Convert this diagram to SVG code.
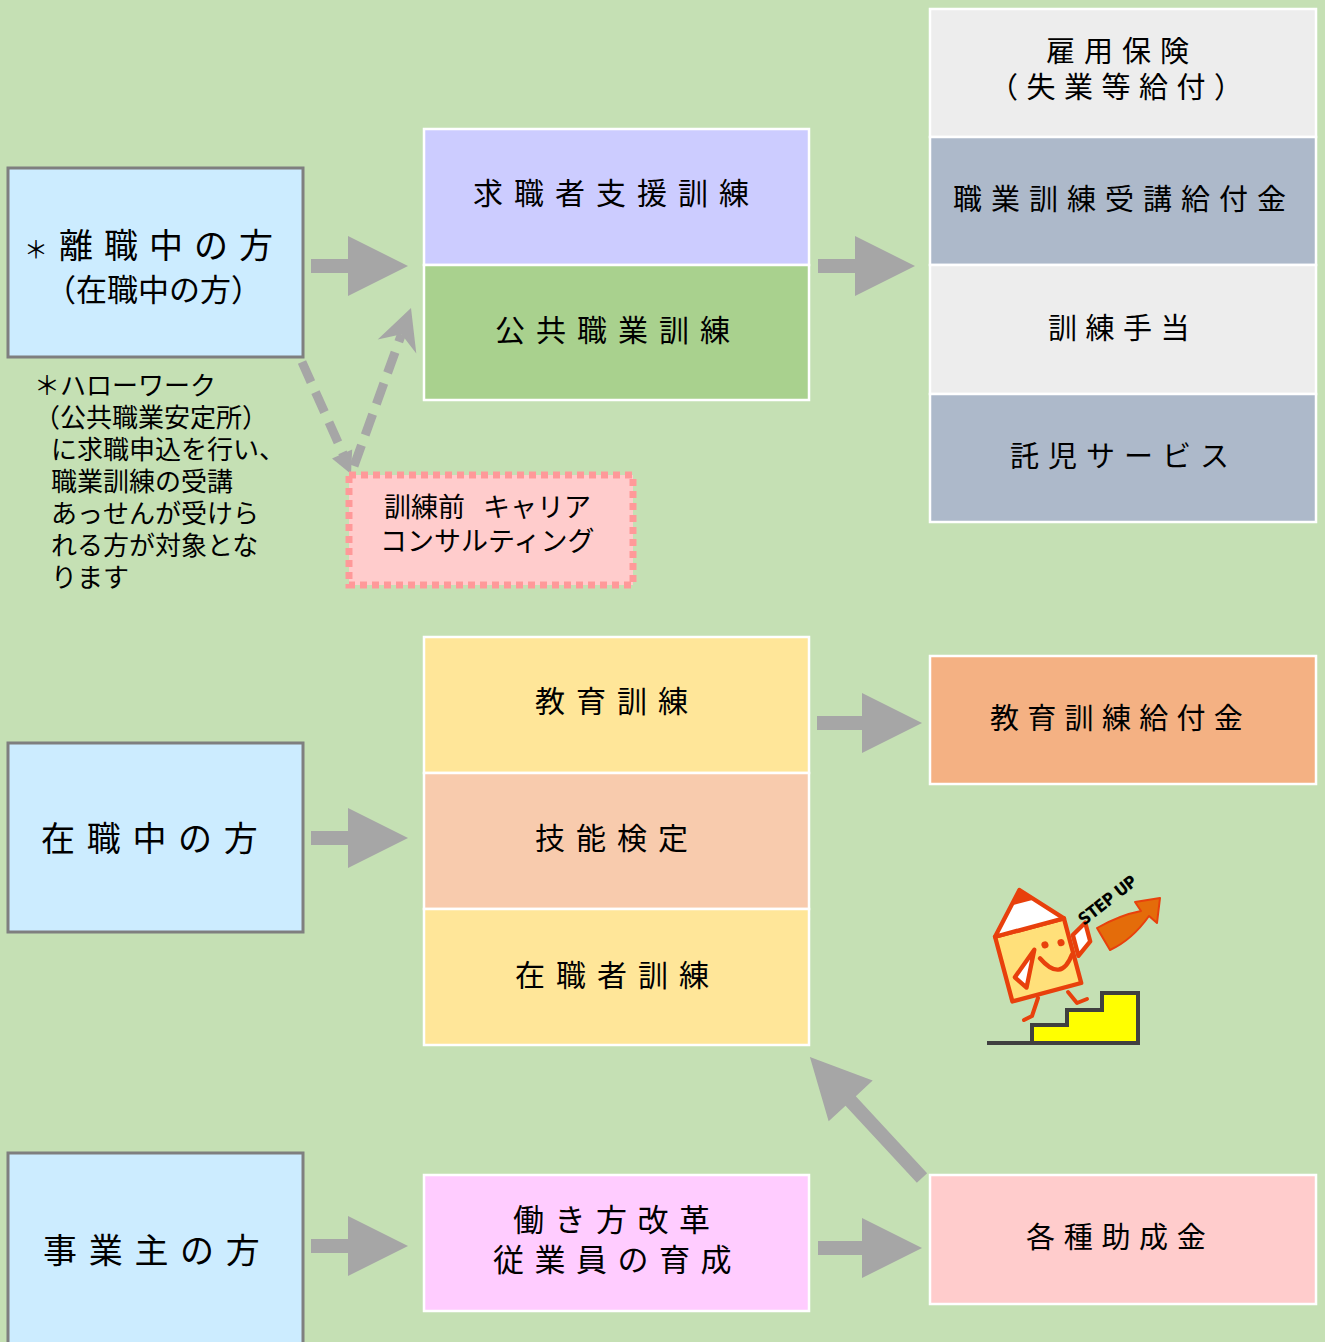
<svg xmlns="http://www.w3.org/2000/svg" width="1325" height="1342" viewBox="0 0 1325 1342">
  <style>
    .jp { font-family: "Noto Sans CJK JP", "Noto Sans", sans-serif; fill: #000; }
    .lbox { fill: #CCECFF; stroke: #7F7F7F; stroke-width: 3; }
    .cell { stroke: #FFFFFF; stroke-width: 2.5; }
    .blk { fill: #A6A6A6; }
    .dash { fill: none; stroke: #A6A6A6; stroke-width: 9; stroke-dasharray: 22 11; }
    .ink { stroke: #E8400C; stroke-width: 4; stroke-linejoin: round; stroke-linecap: round; }
  </style>

  <!-- background -->
  <rect x="0" y="0" width="1325" height="1342" fill="#C5E0B4"/>

  <!-- connectors -->
  <g id="connectors">
    <path class="blk" d="M311,259 H348 V236 L408,266 L348,296 V273 H311 Z"/>
    <path class="blk" d="M818,259 H855 V236 L915,266 L855,296 V273 H818 Z"/>
    <path class="blk" d="M817,716 H862 V693 L922,723 L862,753 V730 H817 Z"/>
    <path class="blk" d="M311,831 H348 V808 L408,838 L348,868 V845 H311 Z"/>
    <path class="blk" d="M311,1239 H348 V1216 L408,1246 L348,1276 V1253 H311 Z"/>
    <path class="blk" d="M818,1241 H862 V1218 L922,1248 L862,1278 V1255 H818 Z"/>
    <path class="blk" transform="translate(922,1178) rotate(-132.8)" d="M0,-7 H105 V-30 L165,0 L105,30 V7 H0 Z"/>
    <!-- consulting loop: down to the box and back up to training -->
    <line class="dash" x1="302" y1="362" x2="345" y2="458"/>
    <polygon class="blk" points="351,474 352.2,449.4 332,458.4"/>
    <line class="dash" x1="354" y1="466" x2="401.5" y2="334.3"/>
    <polygon class="blk" points="411,308 416.3,353.5 401.5,334.3 377.7,339.5"/>
  </g>

  <!-- left column -->
  <g id="node-rishoku">
    <rect class="lbox" x="8" y="168" width="295" height="189"/>
    <text class="jp" x="24" y="258" font-size="34" letter-spacing="11"><tspan font-size="24">＊</tspan>離職中の方</text>
    <text class="jp" x="45" y="301" font-size="31">（在職中の方）</text>
  </g>
  <g id="note">
    <text class="jp" font-size="26">
      <tspan x="34" y="395">＊ハローワーク</tspan>
      <tspan x="34" y="427">（公共職業安定所）</tspan>
      <tspan x="51" y="459">に求職申込を行い、</tspan>
      <tspan x="51" y="491">職業訓練の受講</tspan>
      <tspan x="51" y="523">あっせんが受けら</tspan>
      <tspan x="51" y="555">れる方が対象とな</tspan>
      <tspan x="51" y="587">ります</tspan>
    </text>
  </g>
  <g id="node-zaishoku">
    <rect class="lbox" x="8" y="743" width="295" height="189"/>
    <text class="jp" x="41" y="851" font-size="34" letter-spacing="11.7">在職中の方</text>
  </g>
  <g id="node-jigyonushi">
    <rect class="lbox" x="8" y="1153" width="295" height="200"/>
    <text class="jp" x="43" y="1263" font-size="34" letter-spacing="11.7">事業主の方</text>
  </g>

  <!-- consulting -->
  <g id="node-consulting">
    <rect x="349" y="475" width="284" height="110" fill="#FFCCCC" stroke="#FF9999" stroke-width="7" stroke-dasharray="7 5"/>
    <text class="jp" x="384" y="517" font-size="27">訓練前 <tspan x="483">キャリア</tspan></text>
    <text class="jp" x="380" y="551" font-size="27">コンサルティング</text>
  </g>

  <!-- middle column -->
  <g id="node-kyushokusha">
    <rect class="cell" x="424" y="129" width="385" height="136" fill="#CCCCFF"/>
    <text class="jp" x="473" y="204" font-size="30" letter-spacing="11">求職者支援訓練</text>
  </g>
  <g id="node-kokyo">
    <rect class="cell" x="424" y="265" width="385" height="135" fill="#A9D18E"/>
    <text class="jp" x="495" y="341" font-size="30" letter-spacing="11">公共職業訓練</text>
  </g>
  <g id="node-kyoiku">
    <rect class="cell" x="424" y="637" width="385" height="136" fill="#FFE699"/>
    <text class="jp" x="535" y="712" font-size="30" letter-spacing="11">教育訓練</text>
  </g>
  <g id="node-gino">
    <rect class="cell" x="424" y="773" width="385" height="136" fill="#F8CBAD"/>
    <text class="jp" x="535" y="849" font-size="30" letter-spacing="11">技能検定</text>
  </g>
  <g id="node-zaishokusha">
    <rect class="cell" x="424" y="909" width="385" height="136" fill="#FFE699"/>
    <text class="jp" x="515" y="986" font-size="30" letter-spacing="11">在職者訓練</text>
  </g>
  <g id="node-hatarakikata">
    <rect class="cell" x="424" y="1175" width="385" height="136" fill="#FFCCFF"/>
    <text class="jp" x="513" y="1231" font-size="31" letter-spacing="10.5">働き方改革</text>
    <text class="jp" x="493" y="1271" font-size="31" letter-spacing="10.5">従業員の育成</text>
  </g>

  <!-- right column -->
  <g id="node-koyohoken">
    <rect class="cell" x="930" y="9" width="386" height="128" fill="#EDEDED"/>
    <text class="jp" x="1046" y="62" font-size="29" letter-spacing="9">雇用保険</text>
    <text class="jp" x="989" y="98" font-size="29" letter-spacing="8.5">（失業等給付）</text>
  </g>
  <g id="node-jukokyufu">
    <rect class="cell" x="930" y="137" width="386" height="128" fill="#ADB9CA"/>
    <text class="jp" x="953" y="210" font-size="29" letter-spacing="9">職業訓練受講給付金</text>
  </g>
  <g id="node-teate">
    <rect class="cell" x="930" y="265" width="386" height="129" fill="#EDEDED"/>
    <text class="jp" x="1048" y="339" font-size="29" letter-spacing="8.5">訓練手当</text>
  </g>
  <g id="node-takuji">
    <rect class="cell" x="930" y="394" width="386" height="128" fill="#ADB9CA"/>
    <text class="jp" x="1010" y="467" font-size="29" letter-spacing="9">託児サービス</text>
  </g>
  <g id="node-kyoikukyufu">
    <rect class="cell" x="930" y="656" width="386" height="128" fill="#F4B183"/>
    <text class="jp" x="990" y="729" font-size="29" letter-spacing="8.3">教育訓練給付金</text>
  </g>
  <g id="node-joseikin">
    <rect class="cell" x="930" y="1175" width="386" height="129" fill="#FFCCCC"/>
    <text class="jp" x="1026" y="1248" font-size="29" letter-spacing="8.7">各種助成金</text>
  </g>

  <!-- step-up illustration -->
  <g id="stepup">
    <!-- stairs -->
    <path d="M1032,1043 V1025 H1067 V1010 H1102 V993 H1138 V1043 Z" fill="#FFFF00"/>
    <path d="M987,1043 H1138 V993 H1102 V1010 H1067 V1025 H1032 V1043" fill="none" stroke="#404040" stroke-width="4" stroke-linejoin="miter"/>
    <!-- legs -->
    <path class="ink" d="M1038,998 L1032,1016 L1024,1020" fill="none"/>
    <path class="ink" d="M1068,992 L1077,1003 L1087,999" fill="none"/>
    <!-- pencil house -->
    <g transform="translate(1046,960) rotate(-15) scale(1.08)">
      <rect class="ink" x="-40" y="-33" width="66" height="62" fill="#FFE07A"/>
      <polygon class="ink" points="-40,-33 -7,-69 26,-33" fill="#FFFFFF"/>
      <polygon points="-7,-69 -18,-57 4,-57" fill="#E8400C"/>
      <polygon class="ink" points="-8,-12 -32,8 -24,20" fill="#FFFFFF" stroke-width="3.5"/>
      <polygon class="ink" points="30,-16 44,-24 44,-6 30,4" fill="#FFFFFF" stroke-width="3.5"/>
      <circle cx="2.7" cy="-13.8" r="3.3" fill="#E8400C"/>
      <circle cx="17.6" cy="-11.9" r="3.3" fill="#E8400C"/>
      <path class="ink" d="M-5,-3 Q8,24 24.5,1.4" fill="none"/>
    </g>
    <!-- rising arrow -->
    <path d="M1097,928 Q1120,915 1141,911 L1135,902 L1160,898 L1157,923 L1149,916 Q1132,940 1110,950 Z" fill="#E46C0A" stroke="#E8400C" stroke-width="2" stroke-linejoin="round"/>
    <text x="1084" y="926" transform="rotate(-38 1084 926)" font-family="DejaVu Sans Condensed, Liberation Sans, sans-serif" font-weight="900" font-size="17" letter-spacing="-0.5" fill="#000">STEP UP</text>
  </g>
</svg>
